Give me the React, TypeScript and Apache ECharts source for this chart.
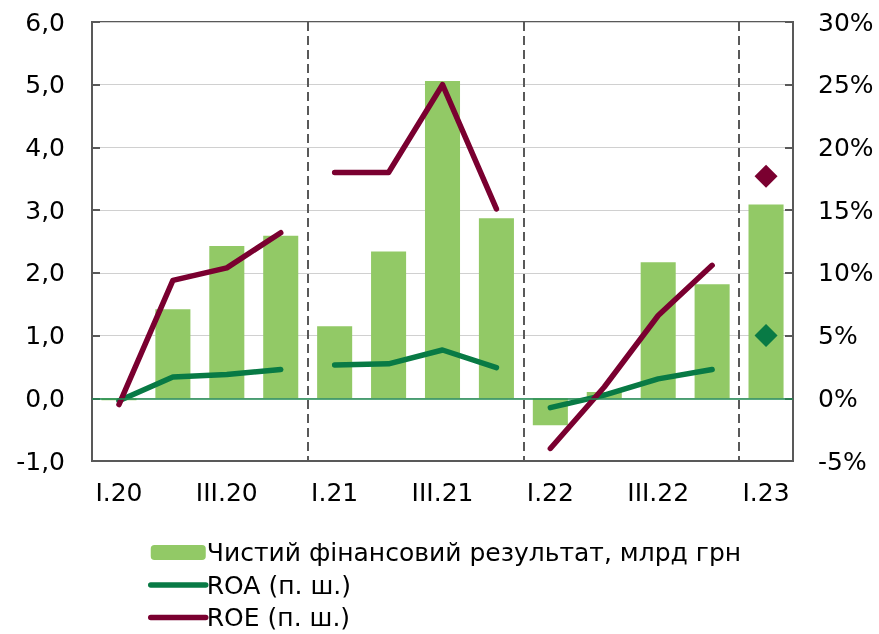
import React, { useEffect, useRef } from "react";
import * as echarts from "echarts";

const categories = ["I.20", "II.20", "III.20", "IV.20", "I.21", "II.21", "III.21", "IV.21", "I.22", "II.22", "III.22", "IV.22", "I.23"];
const netResult = [-0.03, 1.42, 2.43, 2.59, 1.15, 2.34, 5.06, 2.87, -0.43, 0.1, 2.17, 1.82, 3.09];
const roa = [-0.2, 1.7, 1.9, 2.3, 2.65, 2.75, 3.85, 2.45, -0.75, 0.25, 1.55, 2.3, 5.0];
const roe = [-0.5, 9.4, 10.4, 13.2, 18.0, 18.0, 25.0, 15.1, -4.0, 0.9, 6.6, 10.6, 17.7];
// year segment index for each category (lines are broken between years)
const yearOf = [0, 0, 0, 0, 1, 1, 1, 1, 2, 2, 2, 2, 3];
const lineYears = [0, 1, 2];
const diamondYear = 3;

const NAME_BAR = "Чистий фінансовий результат, млрд грн";
const NAME_ROA = "ROA (п. ш.)";
const NAME_ROE = "ROE (п. ш.)";

const BAR_COLOR = "#92C966";
const ROA_COLOR = "#087A45";
const ROE_COLOR = "#7A0030";
const AXIS_COLOR = "#595959";
const FONT = "DejaVu Sans, Arial, sans-serif";
const FS = 25;

function segment(values: number[], year: number) {
  return values.map((v, i) => (yearOf[i] === year ? v : null));
}

export default function App() {
  const ref = useRef<HTMLDivElement>(null);
  useEffect(() => {
    if (!ref.current) return;
    const chart = echarts.init(ref.current, undefined, { renderer: "svg" });
    const lineSeries = (name: string, values: number[], color: string) =>
      lineYears.map((y) => ({
        name,
        type: "line",
        yAxisIndex: 1,
        data: segment(values, y),
        symbol: "none",
        connectNulls: false,
        lineStyle: { color, width: 5.5, cap: "round", join: "round" },
        itemStyle: { color },
        z: 3,
      }));
    const diamond = (name: string, values: number[], color: string) => ({
      name,
      type: "scatter",
      yAxisIndex: 1,
      data: segment(values, diamondYear),
      symbol: "diamond",
      symbolSize: 23,
      itemStyle: { color, opacity: 1 },
      z: 4,
    });
    const lineLegend = (name: string) => ({
      name,
      itemStyle: { opacity: 0 },
      lineStyle: { width: 5.5, cap: "round" },
    });
    chart.setOption({
      animation: false,
      textStyle: { fontFamily: FONT },
      grid: {
        left: 92,
        right: 86,
        top: 22,
        bottom: 173,
        show: true,
        borderColor: AXIS_COLOR,
        borderWidth: 2,
        containLabel: false,
      },
      legend: {
        orient: "vertical",
        left: 143,
        top: 535,
        height: 110,
        itemWidth: 55,
        itemHeight: 15,
        itemGap: 7.5,
        data: [NAME_BAR, lineLegend(NAME_ROA), lineLegend(NAME_ROE)],
        textStyle: { fontSize: FS, color: "#000", fontFamily: FONT, padding: [0, 0, 0, -4] },
      },
      xAxis: {
        type: "category",
        data: categories,
        boundaryGap: true,
        axisLine: { onZero: false, lineStyle: { color: AXIS_COLOR, width: 2 } },
        axisTick: { show: false },
        axisLabel: { interval: 1, fontSize: FS, color: "#000", margin: 19, fontFamily: FONT },
        splitLine: {
          show: true,
          interval: (index: number) => index === 4 || index === 8 || index === 12,
          lineStyle: { color: AXIS_COLOR, width: 2, type: [9, 5] },
        },
      },
      yAxis: [
        {
          type: "value",
          min: -1,
          max: 6,
          interval: 1,
          axisLine: { show: true, lineStyle: { color: AXIS_COLOR, width: 2 } },
          axisTick: { show: true, inside: true, length: 8, lineStyle: { color: AXIS_COLOR, width: 2 } },
          axisLabel: {
            fontSize: FS,
            color: "#000",
            margin: 27,
            fontFamily: FONT,
            formatter: (v: number) => v.toFixed(1).replace(".", ","),
          },
          splitLine: { show: true, lineStyle: { color: "#D0D0D0", width: 1 } },
        },
        {
          type: "value",
          min: -5,
          max: 30,
          interval: 5,
          axisLine: { show: true, lineStyle: { color: AXIS_COLOR, width: 2 } },
          axisTick: { show: true, inside: true, length: 8, lineStyle: { color: AXIS_COLOR, width: 2 } },
          axisLabel: {
            fontSize: FS,
            color: "#000",
            margin: 25,
            fontFamily: FONT,
            formatter: (v: number) => v + "%",
          },
          splitLine: { show: false },
        },
      ],
      series: [
        {
          name: NAME_BAR,
          type: "bar",
          data: netResult,
          barWidth: "65%",
          itemStyle: { color: BAR_COLOR },
          z: 2,
          markLine: {
            silent: true,
            symbol: ["none", "none"],
            label: { show: false },
            lineStyle: { color: "#1E8A52", width: 1.5, type: "solid" },
            data: [{ yAxis: 0 }],
          },
        },
        ...lineSeries(NAME_ROA, roa, ROA_COLOR),
        ...lineSeries(NAME_ROE, roe, ROE_COLOR),
        diamond(NAME_ROA + " ", roa, ROA_COLOR),
        diamond(NAME_ROE + " ", roe, ROE_COLOR),
      ],
    });
    return () => chart.dispose();
  }, []);
  return <div ref={ref} style={{ position: "fixed", left: 0, top: 0, width: 879, height: 634 }} />;
}
